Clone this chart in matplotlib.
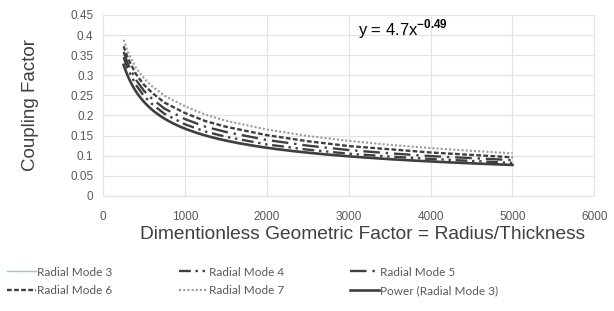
import numpy as np
import matplotlib
matplotlib.use('Agg')
import matplotlib.pyplot as plt

plt.rcParams['font.family'] = ['Liberation Sans', 'DejaVu Sans']
plt.rcParams['mathtext.fontset'] = 'custom'
plt.rcParams['mathtext.rm'] = 'Liberation Sans'
plt.rcParams['mathtext.bf'] = 'Liberation Sans:bold'

# geometric factor (radius/thickness)
ratio = [250, 300, 400, 500, 600, 750, 1000, 1250, 1500, 2000, 2500, 3000, 3500, 4000, 4500, 5000]

# coupling factor per radial mode
mode3 = [0.326, 0.299, 0.260, 0.233, 0.214, 0.192, 0.167, 0.150, 0.138, 0.120, 0.108, 0.098, 0.091, 0.086, 0.081, 0.077]
mode4 = [0.345, 0.316, 0.276, 0.248, 0.228, 0.204, 0.178, 0.160, 0.147, 0.128, 0.115, 0.105, 0.098, 0.092, 0.087, 0.082]
mode5 = [0.358, 0.329, 0.289, 0.261, 0.241, 0.217, 0.191, 0.172, 0.159, 0.139, 0.125, 0.114, 0.106, 0.099, 0.094, 0.089]
mode6 = [0.372, 0.343, 0.303, 0.276, 0.256, 0.232, 0.206, 0.186, 0.172, 0.151, 0.136, 0.124, 0.116, 0.108, 0.102, 0.096]
mode7 = [0.388, 0.358, 0.319, 0.292, 0.272, 0.249, 0.223, 0.202, 0.187, 0.165, 0.149, 0.137, 0.127, 0.119, 0.112, 0.106]

xticks = [0, 1000, 2000, 3000, 4000, 5000, 6000]
yticks = [0, 0.05, 0.1, 0.15, 0.2, 0.25, 0.3, 0.35, 0.4, 0.45]
ylabels = ['0', '0.05', '0.1', '0.15', '0.2', '0.25', '0.3', '0.35', '0.4', '0.45']

dark = '#3f3f3f'
grid = '#e3e3e3'
txt = '#595959'

fig = plt.figure(figsize=(6.14, 3.11), dpi=100)
ax = fig.add_axes([0.168, 0.370, 0.800, 0.582])

# power trendline fitted to mode 3 (log-log least squares)
b, loga = np.polyfit(np.log(ratio), np.log(mode3), 1)
xf = np.linspace(ratio[0], ratio[-1], 200)
yf = np.exp(loga) * xf ** b

l3, = ax.plot(ratio, mode3, color='#9dc3e6', lw=1.0, label='Radial Mode 3')
l4, = ax.plot(ratio, mode4, color=dark, lw=1.7, ls=(0, (5, 2, 1, 2, 1, 2)), label='Radial Mode 4')
l5, = ax.plot(ratio, mode5, color=dark, lw=1.7, ls=(0, (7, 2.5, 1, 2.5)), label='Radial Mode 5')
l6, = ax.plot(ratio, mode6, color=dark, lw=1.7, ls=(0, (2, 1)), label='Radial Mode 6')
l7, = ax.plot(ratio, mode7, color='#9a9a9a', lw=1.5, ls=(0, (1, 1)), label='Radial Mode 7')
lp, = ax.plot(xf, yf, color=dark, lw=1.9, label='Power (Radial Mode 3)')

ax.set_xlim(0, 6000)
ax.set_ylim(0, 0.45)
ax.set_xticks(xticks)
ax.set_yticks(yticks)
ax.set_yticklabels(ylabels)
ax.tick_params(length=0, labelsize=8.5, colors=txt)
ax.tick_params(axis='x', pad=11)
ax.tick_params(axis='y', pad=7)
ax.grid(True, color=grid, lw=0.8)
ax.set_axisbelow(True)
for s in ax.spines.values():
    s.set_color(grid)
    s.set_linewidth(0.8)

fig.text(0.049, 0.662, 'Coupling Factor', fontsize=13.5, color=dark,
         rotation=90, ha='center', va='center')
fig.text(0.59, 0.245, 'Dimentionless Geometric Factor = Radius/Thickness',
         fontsize=13.8, color=dark, ha='center', va='center')

ax.text(0.518, 0.92, r'y = 4.7x$^{\mathbf{-0.49}}$', transform=ax.transAxes,
        fontsize=12, color='black', va='center')

# legend row-major: reorder for column-filled layout
handles = [l3, l6, l4, l7, l5, lp]
fig.legend(handles, [h.get_label() for h in handles], ncol=3, loc='center left',
           bbox_to_anchor=(0.012, 0.095), frameon=False, borderpad=0, borderaxespad=0,
           handlelength=2.4, handletextpad=0.15, columnspacing=5.6,
           labelspacing=0.65, prop={'family': ['Lato', 'DejaVu Sans'], 'size': 8.5},
           labelcolor=txt)

fig.savefig('out.png', dpi=100)
